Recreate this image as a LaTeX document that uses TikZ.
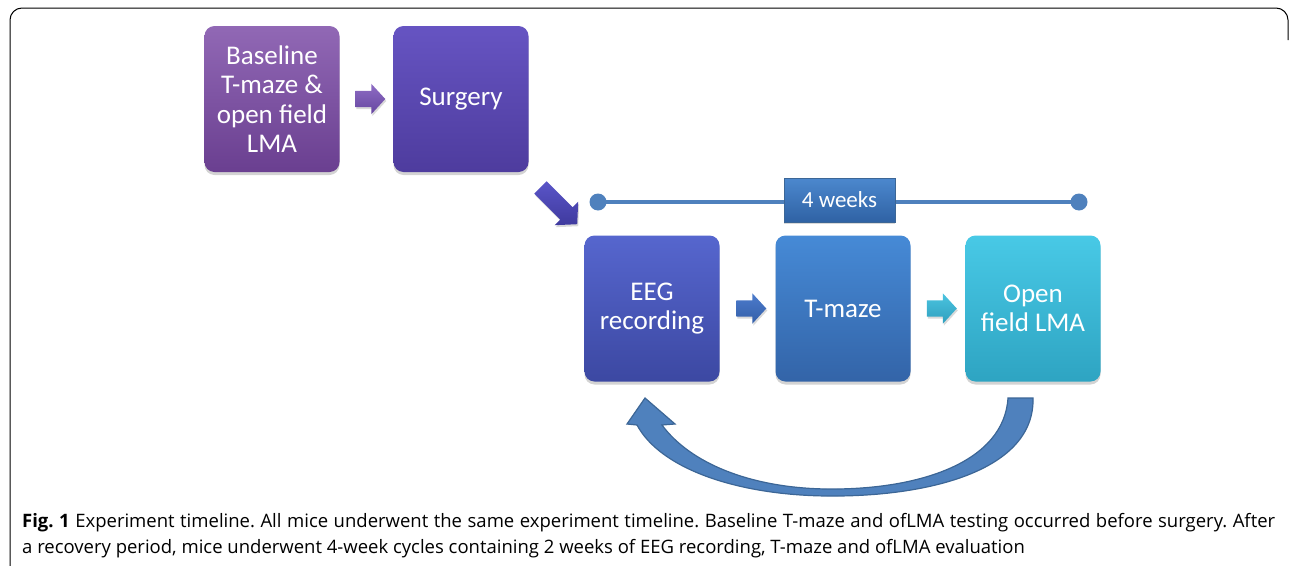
\documentclass[tikz,border=0pt]{standalone}
\usepackage{fontspec}
\setmainfont{Carlito}
\newfontfamily\capfont{Open Sans}
\usetikzlibrary{shadows,shapes.arrows,calc}
\frenchspacing
\definecolor{tl}{HTML}{4F81BD}
\definecolor{tlD}{HTML}{3C6696}
\definecolor{baseT}{HTML}{9168B5}\definecolor{baseB}{HTML}{6A3F90}
\definecolor{surgT}{HTML}{6654C2}\definecolor{surgB}{HTML}{4E3C9E}
\definecolor{eegT}{HTML}{5666CE}\definecolor{eegB}{HTML}{3C48A2}
\definecolor{tmT}{HTML}{468AD6}\definecolor{tmB}{HTML}{3364A8}
\definecolor{opT}{HTML}{48C9E6}\definecolor{opB}{HTML}{2EA4C2}
\definecolor{a1T}{HTML}{8E6CC4}\definecolor{a1B}{HTML}{6646A0}
\definecolor{a2T}{HTML}{4C7CCC}\definecolor{a2B}{HTML}{345EA8}
\definecolor{a3T}{HTML}{4CC4E0}\definecolor{a3B}{HTML}{2E9FBE}
\definecolor{a0T}{HTML}{5A55C8}\definecolor{a0B}{HTML}{3F3A9E}
\definecolor{wkT}{HTML}{4C88CE}\definecolor{wkB}{HTML}{2F62A4}
\tikzset{
  stepbox/.style={rounded corners=10pt, minimum width=135pt, minimum height=146pt,
    align=center, text=white, font=\fontsize{27}{29.5}\selectfont, inner sep=2pt,
    drop shadow={shadow xshift=0pt, shadow yshift=-3pt, opacity=0.35}},
  blockarr/.style={single arrow, minimum height=30pt, inner xsep=0pt, inner ysep=8pt,
    single arrow head extend=7pt, single arrow tip angle=95,
    drop shadow={shadow xshift=1pt, shadow yshift=-2pt, opacity=0.3}},
  captext/.style={anchor=base west, inner sep=0pt, font=\capfont\fontsize{18.5}{22}\selectfont},
}
\begin{document}
\begin{tikzpicture}[x=1pt,y=-1pt]
\useasboundingbox (0,0) rectangle (1290,565);
% frame
\draw[line width=1pt, rounded corners=12pt] (10,575) -- (10,8) -- (1288,8) -- (1288,40);
% boxes
\node[stepbox, top color=baseT, bottom color=baseB] (base) at (272,99) {Baseline\\T-maze \&\\open field\\LMA};
\node[stepbox, top color=surgT, bottom color=surgB] (surg) at (461,99) {Surgery};
\node[stepbox, top color=eegT, bottom color=eegB] (eeg) at (652,308.5) {EEG\\recording};
\node[stepbox, top color=tmT, bottom color=tmB] (tmaze) at (843,308.5) {T-maze};
\node[stepbox, top color=opT, bottom color=opB] (open) at (1033,308.5) {Open\\field LMA};
% block arrows between boxes
\node[blockarr, top color=a1T, bottom color=a1B] (a1) at ($(base.east)!0.5!(surg.west)$) {};
\node[blockarr, top color=a2T, bottom color=a2B] (a2) at ($(eeg.east)!0.5!(tmaze.west)$) {};
\node[blockarr, top color=a3T, bottom color=a3B] (a3) at ($(tmaze.east)!0.5!(open.west)$) {};
\node[blockarr, minimum height=52pt, inner ysep=8.5pt, single arrow head extend=8pt, rotate=-45,
  top color=a0T, bottom color=a0B] (a0) at (556,203) {};
% timeline
\coordinate (t1) at (598,202);
\coordinate (t2) at (1079,202);
\draw[tl, line width=4.5pt] (t1) -- (t2);
\fill[tl] (t1) circle[radius=8.5];
\fill[tl] (t2) circle[radius=8.5];
\node[draw=tlD, line width=0.8pt, top color=wkT, bottom color=wkB, minimum width=111pt, minimum height=44pt,
  text=white, font=\fontsize{23}{26}\selectfont,
  drop shadow={shadow xshift=0pt, shadow yshift=-2pt, opacity=0.3}] (wk) at (839.5,200) {4 weeks};
% curved return arrow (from open field back to EEG recording)
\filldraw[fill=tl, draw=tlD, line width=1.2pt]
  (1008,398) -- (1033,398) .. controls (1035,470) and (930,497) .. (827,496)
  .. controls (735,495) and (660,468) .. (637,425) -- (627,424) -- (645,398) -- (675,424) -- (662,425)
  .. controls (690,463) and (750,488) .. (827,489) .. controls (920,490) and (1004,462) .. (1008,398) -- cycle;
% caption
\node[captext] (cap1) at (22,527)
  {\makebox[1253pt][s]{\textbf{Fig. 1} Experiment timeline. All mice underwent the same experiment timeline. Baseline T-maze and ofLMA testing occurred before surgery. After}};
\node[captext] (cap2) at (22,553)
  {a recovery period, mice underwent 4-week cycles containing 2 weeks of EEG recording, T-maze and ofLMA evaluation};
\end{tikzpicture}
\end{document}
